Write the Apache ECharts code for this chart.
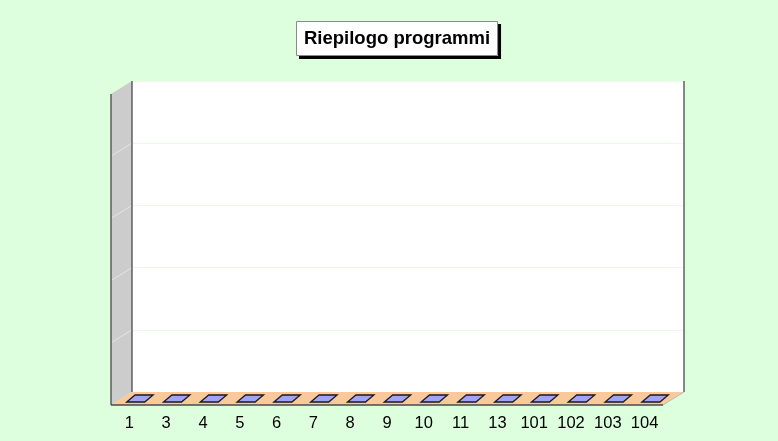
<!DOCTYPE html>
<html><head><meta charset="utf-8">
<script src="https://cdn.jsdelivr.net/npm/echarts@6/dist/echarts.min.js"></script>
<style>html,body{margin:0;padding:0;background:#ddffdd}#c{width:778px;height:441px}</style>
</head><body><div id="c"></div>
<script>
const categories = ['1','3','4','5','6','7','8','9','10','11','13','101','102','103','104'];
const values = [0,0,0,0,0,0,0,0,0,0,0,0,0,0,0];
const yMax = 5;
const yTicks = [1,2,3,4];
const titleText = 'Riepilogo programmi';

const DX = -21, DY = 13;

function renderWalls(params, api) {
  const cs = params.coordSys;
  const x0 = cs.x, y0 = cs.y, x1 = cs.x + cs.width, y1 = cs.y + cs.height;
  const ch = [];
  ch.push({type:'polygon', shape:{points:[[x0,y0],[x0,y1],[x0+DX,y1+DY],[x0+DX,y0+DY]]}, style:{fill:'#cccccc'}});
  ch.push({type:'polygon', shape:{points:[[x0,y1],[x1,y1],[x1+DX,y1+DY],[x0+DX,y1+DY]]}, style:{fill:'#f9c99b'}});
  yTicks.forEach(v => {
    const y = api.coord([0, v])[1];
    ch.push({type:'line', shape:{x1:x0, y1:y, x2:x0+DX, y2:y+DY}, style:{stroke:'#e6e6e6', lineWidth:1}});
  });
  const dark = {stroke:'#4a4a4a', lineWidth:1.3};
  ch.push({type:'line', shape:{x1:x0, y1:y0, x2:x0, y2:y1}, style:dark});
  ch.push({type:'line', shape:{x1:x0+DX, y1:y0+DY, x2:x0+DX, y2:y1+DY}, style:dark});
  ch.push({type:'line', shape:{x1:x0+DX, y1:y1+DY, x2:x1+DX, y2:y1+DY}, style:dark});
  ch.push({type:'line', shape:{x1:x1, y1:y0, x2:x1, y2:y1}, style:dark});
  ch.push({type:'line', shape:{x1:x1, y1:y1, x2:x1+DX, y2:y1+DY}, style:{stroke:'#bbbbbb', lineWidth:1}});
  return {type:'group', children: ch};
}

function renderBar(params, api) {
  const i = api.value(0), v = api.value(1);
  const p = api.coord([i, v]);
  const b = api.coord([i, 0]);
  const bw = api.size([1, 0])[0];
  const hw = bw * 0.245;
  const hdx = DX * 0.2, hdy = DY * 0.27;
  const cx = p[0] + DX / 2, cy = p[1] + DY / 2;
  const by = b[1] + DY / 2;
  const bk = [cx - hdx, cy - hdy], fr = [cx + hdx, cy + hdy];
  const top = [[bk[0]-hw, bk[1]], [bk[0]+hw, bk[1]], [fr[0]+hw, fr[1]], [fr[0]-hw, fr[1]]];
  const ch = [];
  if (by - cy > 0.5) {
    ch.push({type:'polygon', shape:{points:[[fr[0]-hw, fr[1]], [fr[0]+hw, fr[1]], [fr[0]+hw, by+hdy], [fr[0]-hw, by+hdy]]}, style:{fill:'#9c9cf2', stroke:'#222', lineWidth:1}});
    ch.push({type:'polygon', shape:{points:[[fr[0]+hw, fr[1]], [bk[0]+hw, bk[1]], [bk[0]+hw, by-hdy], [fr[0]+hw, by+hdy]]}, style:{fill:'#7a7ad0', stroke:'#222', lineWidth:1}});
  }
  ch.push({type:'polygon', shape:{points: top}, style:{fill:'#a3a3f5', stroke:'#1a1a1a', lineWidth:1.3}});
  return {type:'group', children: ch};
}

const titleFont = {fontFamily: 'Liberation Sans, Arial, sans-serif', fontSize: 18.5, fontWeight: 'bold'};

const chart = echarts.init(document.getElementById('c'));
chart.setOption({
  backgroundColor: '#ddffdd',
  animation: false,
  title: [{
    text: titleText,
    left: 296,
    top: 21,
    padding: [8, 8],
    backgroundColor: '#ffffff',
    borderWidth: 0,
    shadowColor: '#000',
    shadowOffsetX: 3,
    shadowOffsetY: 3,
    shadowBlur: 0,
    textStyle: Object.assign({color: '#000'}, titleFont)
  }, {
    text: titleText,
    left: 296,
    top: 21,
    padding: [8, 8],
    borderColor: '#8a8a8a',
    borderWidth: 1,
    textStyle: Object.assign({color: 'rgba(0,0,0,0)'}, titleFont)
  }],
  grid: {left: 132, right: 94, top: 81, bottom: 49, show: true, backgroundColor: '#ffffff', borderWidth: 0},
  xAxis: {
    type: 'category',
    data: categories,
    axisLine: {show: false},
    axisTick: {show: false},
    axisLabel: {
      margin: 23,
      padding: [0, 42, 0, 0],
      fontFamily: 'Liberation Sans, Arial, sans-serif',
      fontSize: 16.5,
      color: '#000'
    }
  },
  yAxis: {
    type: 'value',
    min: 0, max: yMax, interval: 1,
    axisLabel: {show: false},
    axisLine: {show: false},
    axisTick: {show: false},
    splitLine: {lineStyle: {color: '#eef6ee', width: 1}}
  },
  series: [
    {type: 'custom', renderItem: renderWalls, data: [[0, 0]], z: 1, silent: true},
    {type: 'custom', renderItem: renderBar, data: values.map((v, i) => [i, v]), z: 3}
  ]
});
</script></body></html>
